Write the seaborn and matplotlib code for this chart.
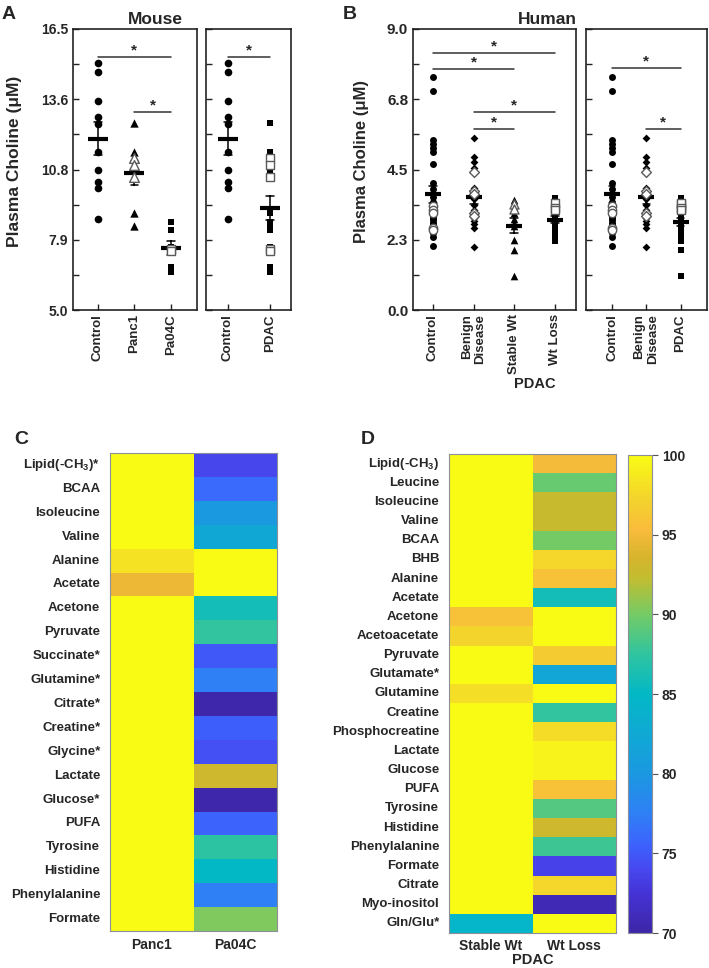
import matplotlib
matplotlib.use('Agg')
import matplotlib.pyplot as plt
import numpy as np
import pandas as pd
import seaborn as sns
from matplotlib.colors import LinearSegmentedColormap
from matplotlib.transforms import blended_transform_factory

# ---------------- data ----------------
# panel A (mouse plasma choline, uM); open = hollow marker
mouse_control = [15.10, 14.73, 13.57, 12.91, 12.60, 11.48, 10.73, 10.24, 10.00, 8.71]
mouse_control_open = [0, 0, 0, 0, 0, 0, 0, 0, 0, 0]
mouse_panc1 = [12.64, 11.48, 11.22, 10.93, 10.73, 10.44, 8.96, 8.45]
mouse_panc1_open = [0, 0, 1, 1, 0, 1, 0, 0]
mouse_pa04c = [8.61, 8.27, 7.59, 7.50, 7.41, 6.77, 6.57]
mouse_pa04c_open = [0, 0, 0, 1, 1, 0, 0]

# panel B (human plasma choline, uM)
human_control = [7.45, 7.01, 5.44, 5.32, 5.18, 5.05, 4.67, 4.06, 3.86, 3.63, 3.47, 3.33, 3.20, 3.15,
                 3.10, 3.05, 2.99, 2.95, 2.88, 2.80, 2.75, 2.70, 2.62, 2.55, 2.46, 2.33, 2.06]
human_control_open = [0, 0, 0, 0, 0, 0, 0, 0, 0, 0, 0, 1, 1, 0, 1, 0, 0, 0, 0, 0, 0, 0, 1, 1, 0, 0, 0]
human_benign = [5.50, 4.89, 4.73, 4.55, 4.41, 3.90, 3.80, 3.70, 3.55, 3.35, 3.20, 3.10, 3.00, 2.95,
                2.85, 2.75, 2.62, 2.03]
human_benign_open = [0, 0, 0, 0, 1, 0, 1, 1, 0, 0, 0, 1, 1, 0, 0, 0, 0, 0]
human_stable = [3.52, 3.40, 3.25, 3.10, 2.93, 2.80, 2.70, 2.24, 1.92, 1.09]
human_stable_open = [0, 1, 1, 0, 0, 0, 0, 0, 0, 0]
human_wtloss = [3.58, 3.48, 3.42, 3.35, 3.28, 3.20, 3.05, 2.90, 2.75, 2.60, 2.52, 2.45, 2.38, 2.30, 2.20]
human_wtloss_open = [0, 0, 1, 0, 1, 1, 0, 0, 0, 0, 0, 0, 0, 0, 0]

# significance bars: (from group index, to group index, y)
mouse_sig_left = [(0, 2, 15.34), (1, 2, 13.09)]
mouse_sig_right = [(0, 1, 15.35)]
human_sig_left = [(0, 3, 8.22), (0, 2, 7.71), (1, 3, 6.34), (1, 2, 5.79)]
human_sig_right = [(0, 2, 7.74), (1, 2, 5.79)]

mouse_ticks = np.linspace(5.0, 16.5, 9)
mouse_ticklabels = ['5.0', '', '7.9', '', '10.8', '', '13.6', '', '16.5']
human_ticks = np.linspace(0.0, 9.0, 9)
human_ticklabels = ['0.0', '', '2.3', '', '4.5', '', '6.8', '', '9.0']

# panel C heatmap
c_rows = ['Lipid(-CH$_3$)*', 'BCAA', 'Isoleucine', 'Valine', 'Alanine', 'Acetate', 'Acetone',
          'Pyruvate', 'Succinate*', 'Glutamine*', 'Citrate*', 'Creatine*', 'Glycine*',
          'Lactate', 'Glucose*', 'PUFA', 'Tyrosine', 'Histidine', 'Phenylalanine', 'Formate']
c_panc1 = [100, 100, 100, 100, 98.3, 94.7, 100, 100, 100, 100, 100, 100, 100, 100, 100, 100, 100,
           100, 100, 100]
c_pa04c = [73.8, 76.0, 80.0, 82.3, 100, 100, 86.0, 87.5, 75.0, 77.5, 70.3, 75.3, 74.5, 93.0, 70.2,
           75.7, 87.3, 85.0, 77.5, 90.3]

# panel D heatmap
d_rows = ['Lipid(-CH$_3$)', 'Leucine', 'Isoleucine', 'Valine', 'BCAA', 'BHB', 'Alanine', 'Acetate',
          'Acetone', 'Acetoacetate', 'Pyruvate', 'Glutamate*', 'Glutamine', 'Creatine',
          'Phosphocreatine', 'Lactate', 'Glucose', 'PUFA', 'Tyrosine', 'Histidine', 'Phenylalanine',
          'Formate', 'Citrate', 'Myo-inositol', 'Gln/Glu*']
d_stable = [100, 100, 100, 100, 100, 100, 100, 100, 95.8, 97.3, 100, 100, 98.0, 100, 100, 100, 100,
            100, 100, 100, 100, 100, 100, 100, 84.5]
d_wtloss = [95.0, 89.5, 92.7, 92.7, 90.0, 97.5, 95.8, 86.0, 100, 100, 96.5, 82.0, 100, 87.5, 97.8,
            99.3, 99.3, 95.8, 88.8, 93.0, 88.0, 73.6, 97.5, 70.8, 100]

# ---------------- style ----------------
sns.set_theme(style='ticks')
plt.rcParams['font.family'] = ['Liberation Sans', 'DejaVu Sans']
plt.rcParams['font.weight'] = 'bold'
plt.rcParams['axes.labelweight'] = 'bold'
plt.rcParams['mathtext.fontset'] = 'custom'
plt.rcParams['mathtext.rm'] = 'Liberation Sans:bold'
plt.rcParams['mathtext.it'] = 'Liberation Sans:bold'
plt.rcParams['mathtext.bf'] = 'Liberation Sans:bold'
plt.rcParams['mathtext.default'] = 'rm'

parula_pos = [70, 72.5, 74, 75.5, 77.5, 80, 82.5, 85, 87.5, 90, 92.3, 93.7, 95.3, 97.3, 100]
parula_hex = ['#3e26a8', '#4433d6', '#4748f0', '#3d62fd', '#2f80f5', '#1a98e0', '#10a9d4', '#02b8c6',
              '#30c4a0', '#74cb66', '#c2bd30', '#d8b42c', '#f9bb3c', '#f3d42c', '#f9fb15']
parula = LinearSegmentedColormap.from_list(
    'parula', [((p - 70) / 30, c) for p, c in zip(parula_pos, parula_hex)])

W, H = 709, 968
fig = plt.figure(figsize=(W / 100, H / 100), dpi=100)


def px_rect(x0, y0, x1, y1):
    return [x0 / W, 1 - y1 / H, (x1 - x0) / W, (y1 - y0) / H]


def make_df(groups):
    rows = []
    for name, vals, opn in groups:
        for v, o in zip(vals, opn):
            rows.append({'group': name, 'value': v, 'open': bool(o)})
    return pd.DataFrame(rows)


def dot_panel(ax, df, order, markers, sizes, mean_size, sigs):
    for g, m, s in zip(order, markers, sizes):
        sub = df[df.group == g]
        sns.stripplot(data=sub[~sub.open], x='group', y='value', order=order, jitter=False,
                      marker=m, size=s, color='black', linewidth=0, ax=ax, zorder=3)
        hol = sub[sub.open]
        if len(hol):
            sns.stripplot(data=hol, x='group', y='value', order=order, jitter=False, marker=m,
                          size=s + 1, color='white', edgecolor='#5a5a5a', linewidth=1, ax=ax,
                          zorder=4)
    sns.pointplot(data=df, x='group', y='value', order=order, errorbar='se', color='black',
                  marker='_', markersize=mean_size, markeredgewidth=3, linestyle='none',
                  capsize=0.2, err_kws={'linewidth': 1.1}, ax=ax)
    for i, j, y in sigs:
        ax.plot([i, j], [y, y], color='#333333', lw=1.1)
        ax.text((i + j) / 2, y, '*', ha='center', va='bottom', fontsize=11)
    ax.set_xlabel('')
    ax.set_ylabel('')
    for s in ax.spines.values():
        s.set_visible(True)
        s.set_linewidth(1.2)
        s.set_color('#222222')
    ax.tick_params(direction='in', length=4, width=1, color='#222222')
    ax.tick_params(axis='x', labelsize=9.5, labelrotation=90, pad=3)


# ---------------- panel A ----------------
mouse_df = make_df([('Control', mouse_control, mouse_control_open),
                    ('Panc1', mouse_panc1, mouse_panc1_open),
                    ('Pa04C', mouse_pa04c, mouse_pa04c_open)])
mouse_pool = make_df([('Control', mouse_control, mouse_control_open),
                      ('PDAC', mouse_panc1 + mouse_pa04c, mouse_panc1_open + mouse_pa04c_open)])

axA1 = fig.add_axes(px_rect(73, 29, 197, 310))
dot_panel(axA1, mouse_df, ['Control', 'Panc1', 'Pa04C'], ['o', '^', 's'], [5.5, 6, 5], 15,
          mouse_sig_left)
axA1.set_xlim(-0.68, 2.71)
axA1.set_ylim(5.0, 16.5)
axA1.set_yticks(mouse_ticks, mouse_ticklabels)
axA1.tick_params(axis='y', labelsize=10)
axA1.set_ylabel('Plasma Choline (\u03bcM)', fontsize=12.5, fontweight='bold')
axA1.yaxis.set_label_coords(-0.41, 0.53)

axA2 = fig.add_axes(px_rect(206, 29, 291, 310))
dot_panel(axA2, mouse_pool, ['Control', 'PDAC'], ['o', 's'], [5.5, 5], 15, mouse_sig_right)
axA2.set_xlim(-0.52, 1.5)
axA2.set_ylim(5.0, 16.5)
axA2.set_yticks(mouse_ticks, [''] * len(mouse_ticks))

fig.text(155 / W, 1 - 20 / H, 'Mouse', ha='center', va='center', fontsize=12.5)

# ---------------- panel B ----------------
human_df = make_df([('Control', human_control, human_control_open),
                    ('Benign', human_benign, human_benign_open),
                    ('Stable', human_stable, human_stable_open),
                    ('WtLoss', human_wtloss, human_wtloss_open)])
human_pool = make_df([('Control', human_control, human_control_open),
                      ('Benign', human_benign, human_benign_open),
                      ('PDAC', human_stable + human_wtloss, human_stable_open + human_wtloss_open)])

axB1 = fig.add_axes(px_rect(413, 29, 576, 310))
dot_panel(axB1, human_df, ['Control', 'Benign', 'Stable', 'WtLoss'], ['o', 'D', '^', 's'],
          [5, 4, 5.5, 5], 12, human_sig_left)
axB1.set_xlim(-0.49, 3.52)
axB1.set_ylim(0.0, 9.0)
axB1.set_yticks(human_ticks, human_ticklabels)
axB1.tick_params(axis='y', labelsize=11)
axB1.set_xticks(range(4), ['Control', 'Benign\nDisease', 'Stable Wt', 'Wt Loss'])
axB1.set_ylabel('Plasma Choline (\u03bcM)', fontsize=12, fontweight='bold')
axB1.yaxis.set_label_coords(-0.27, 0.53)
for lab in axB1.get_xticklabels():
    lab.set_multialignment('right')
axB1.text(2.5, -0.265, 'PDAC', transform=blended_transform_factory(axB1.transData, axB1.transAxes),
          ha='center', va='center', fontsize=10.5)

axB2 = fig.add_axes(px_rect(586, 29, 707, 310))
dot_panel(axB2, human_pool, ['Control', 'Benign', 'PDAC'], ['o', 'D', 's'], [5, 4, 5], 12,
          human_sig_right)
axB2.set_xlim(-0.76, 2.77)
axB2.set_ylim(0.0, 9.0)
axB2.set_yticks(human_ticks, [''] * len(human_ticks))
axB2.set_xticks(range(3), ['Control', 'Benign\nDisease', 'PDAC'])
for lab in axB2.get_xticklabels():
    lab.set_multialignment('right')

fig.text(547 / W, 1 - 20 / H, 'Human', ha='center', va='center', fontsize=12.5)


# ---------------- heatmaps ----------------
def style_heat(ax):
    for s in ax.spines.values():
        s.set_visible(True)
        s.set_linewidth(0.8)
        s.set_color('#8a8f99')
    ax.tick_params(axis='both', direction='in', length=3, width=0.8, color='#555555',
                   left=True, right=True, top=True, bottom=True,
                   labelleft=True, labelright=False, labeltop=False, labelbottom=True)
    ax.tick_params(axis='y', labelsize=9.5, rotation=0, pad=7)
    ax.tick_params(axis='x', labelsize=10, rotation=0, pad=5)


c_df = pd.DataFrame({'Panc1': c_panc1, 'Pa04C': c_pa04c}, index=c_rows)
axC = fig.add_axes(px_rect(110, 453, 277, 931))
sns.heatmap(c_df, cmap=parula, vmin=70, vmax=100, cbar=False, ax=axC)
style_heat(axC)

d_df = pd.DataFrame({'Stable Wt': d_stable, 'Wt Loss': d_wtloss}, index=d_rows)
axD = fig.add_axes(px_rect(449, 454, 616, 933))
axCB = fig.add_axes(px_rect(628, 455, 652, 933))
sns.heatmap(d_df, cmap=parula, vmin=70, vmax=100, cbar=True, cbar_ax=axCB, ax=axD)
style_heat(axD)
axD.tick_params(axis='x', pad=4)
axD.set_xlabel('PDAC', fontsize=10.5, labelpad=0)

cb = axD.collections[0].colorbar
cb.set_ticks([70, 75, 80, 85, 90, 95, 100])
cb.ax.tick_params(labelsize=10, length=4, width=0.8, color='#555555', pad=3)
cb.outline.set_edgecolor('#8a8f99')
cb.outline.set_linewidth(0.8)

# panel letters
fig.text(2 / W, 1 - 6 / H, 'A', fontsize=14, va='top')
fig.text(343 / W, 1 - 6 / H, 'B', fontsize=14, va='top')
fig.text(14 / W, 1 - 431 / H, 'C', fontsize=14, va='top')
fig.text(361 / W, 1 - 431 / H, 'D', fontsize=14, va='top')

fig.savefig('out.png', dpi=100)
